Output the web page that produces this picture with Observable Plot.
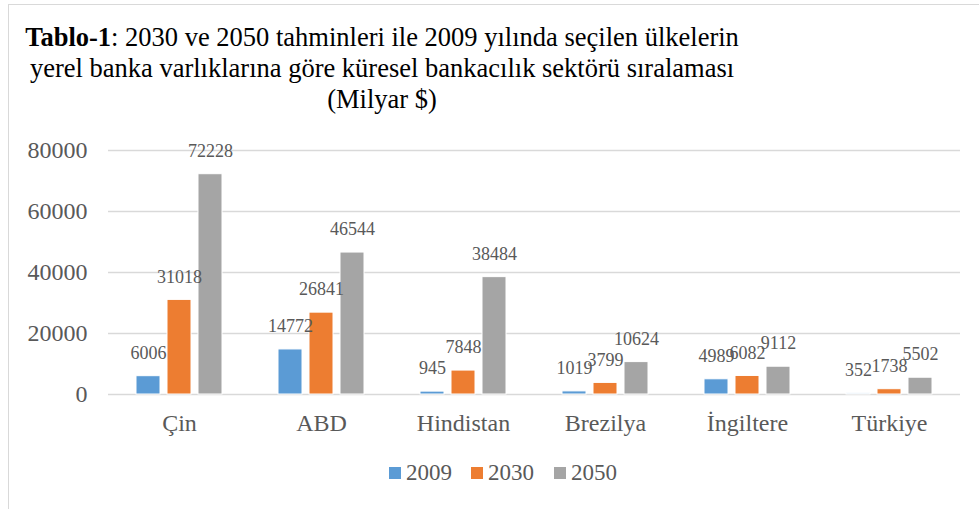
<!DOCTYPE html>
<html>
<head>
<meta charset="utf-8">
<script src="https://cdn.jsdelivr.net/npm/d3@7"></script>
<script src="https://cdn.jsdelivr.net/npm/@observablehq/plot@0.6"></script>
<style>
  html, body { margin: 0; padding: 0; background: #fff; }
  #wrap { position: relative; width: 979px; height: 509px; overflow: hidden; background: #fff; font-family: "Liberation Serif", "Times New Roman", serif; }
  #frame { position: absolute; left: 8px; top: 4px; width: 990px; height: 520px; border-left: 1.5px solid #d9d9d9; border-top: 1.5px solid #d9d9d9; }
  .tline { position: absolute; left: 0; width: 764px; text-align: center; font-size: 26.5px; color: #000; white-space: nowrap; line-height: 1; }
  #chart { position: absolute; left: 0; top: 0; }
  #legend { position: absolute; top: 460px; left: 0; width: 979px; height: 26px; }
  .li { position: absolute; top: 0; font-size: 23px; color: #595959; line-height: 26px; }
  .sw { position: absolute; top: 7px; width: 12px; height: 12px; }
</style>
</head>
<body>
<div id="wrap">
  <div id="frame"></div>
  <div class="tline" style="top:24px"><b>Tablo-1</b>: 2030 ve 2050 tahminleri ile 2009 yılında seçilen ülkelerin</div>
  <div class="tline" style="top:55px">yerel banka varlıklarına göre küresel bankacılık sektörü sıralaması</div>
  <div class="tline" style="top:86px">(Milyar $)</div>
  <div id="chart"></div>
  <div id="legend"></div>
</div>
<script>
const countries = ["Çin", "ABD", "Hindistan", "Brezilya", "İngiltere", "Türkiye"];
const years = ["2009", "2030", "2050"];
const values2009 = [6006, 14772, 945, 1019, 4989, 352];
const values2030 = [31018, 26841, 7848, 3799, 6082, 1738];
const values2050 = [72228, 46544, 38484, 10624, 9112, 5502];
const colors = ["#5B9BD5", "#ED7D31", "#A5A5A5"];
const yTicks = [0, 20000, 40000, 60000, 80000];

const series = [values2009, values2030, values2050];
const data = [];
countries.forEach((c, i) => {
  years.forEach((y, j) => data.push({country: c, year: y, value: series[j][i]}));
});

const chart = Plot.plot({
  width: 979,
  height: 509,
  marginLeft: 106,
  marginRight: 18,
  marginTop: 150,
  marginBottom: 115,
  style: {fontFamily: "'Liberation Serif', 'Times New Roman', serif", background: "transparent"},
  fx: {domain: countries, padding: 0, label: null},
  x: {domain: years, paddingInner: 0.22, paddingOuter: 0.84, axis: null},
  y: {domain: [0, 80000], label: null},
  color: {domain: years, range: colors},
  marks: [
    Plot.ruleY(yTicks, {stroke: "#d9d9d9", strokeWidth: 1.5}),
    Plot.barY(data, {fx: "country", x: "year", y: "value", fill: "year", stroke: "#fff", strokeWidth: 1}),
    Plot.text(data, {fx: "country", x: "year", y: "value", text: d => String(d.value), dy: -23, fill: "#595959", fontSize: 18}),
    Plot.axisY({ticks: yTicks, tickSize: 0, tickPadding: 21, fontSize: 24, fill: "#595959", tickFormat: d => String(d), label: null}),
    Plot.axisFx({anchor: "bottom", tickSize: 0, tickPadding: 19, fontSize: 24, fill: "#595959", label: null})
  ]
});
document.getElementById("chart").appendChild(chart);

const legend = document.getElementById("legend");
const legX = [389, 471, 554];
years.forEach((y, i) => {
  const sw = document.createElement("div");
  sw.className = "sw";
  sw.style.left = legX[i] + "px";
  sw.style.background = colors[i];
  legend.appendChild(sw);
  const t = document.createElement("div");
  t.className = "li";
  t.style.left = (legX[i] + 17) + "px";
  t.textContent = y;
  legend.appendChild(t);
});
</script>
</body>
</html>
